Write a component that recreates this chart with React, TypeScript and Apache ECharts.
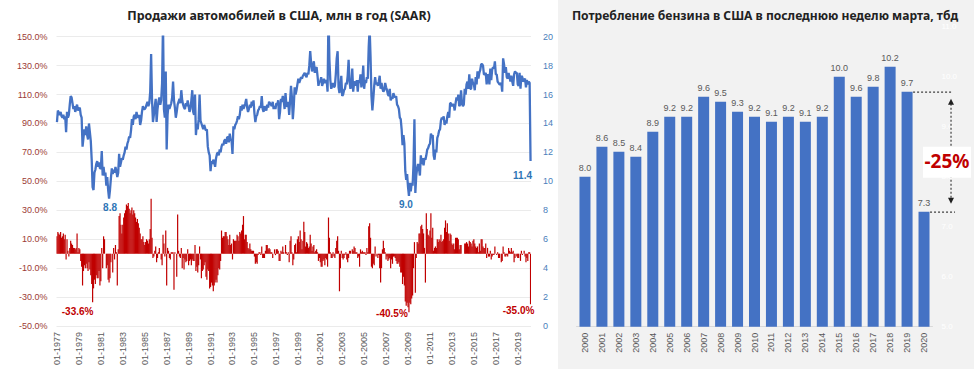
import React, { useEffect, useRef } from "react";
import * as echarts from "echarts";

// ---------- Left chart: US light vehicle sales (SAAR, mln) and YoY change ----------
const firstYear = 1977;
const lastYear = 2020;
const lastMonth = 3;
const monthLabels: string[] = [];
for (let y = firstYear; y <= lastYear; y++) {
  for (let m = 1; m <= 12; m++) {
    if (y === lastYear && m > lastMonth) break;
    monthLabels.push(`${String(m).padStart(2, "0")}-${y}`);
  }
}

// monthly SAAR, mln units (one row per year, Jan..Dec)
const carSales: number[] = [
  14.1, 14.9, 14.7, 14.6, 14.8, 14.5, 14.4, 14.6, 14.3, 14.5, 13.4, 14.8, // 1977
  14.4, 14.6, 15.3, 15.9, 15.8, 15.4, 15.0, 15.2, 14.8, 15.1, 15.3, 14.9, // 1978
  15.0, 15.1, 14.6, 14.4, 12.4, 13.0, 13.6, 13.2, 13.8, 13.2, 12.9, 14.0, // 1979
  13.4, 12.8, 11.5, 9.6, 9.4, 10.6, 10.8, 11.2, 11.4, 11.0, 11.3, 10.9, // 1980
  10.9, 12.1, 10.4, 11.0, 10.4, 10.6, 9.7, 10.3, 9.4, 8.8, 9.4, 10.2, // 1981
  10.9, 10.5, 10.8, 10.6, 11.0, 10.7, 10.3, 10.6, 11.9, 11.0, 11.3, 11.6, // 1982
  11.5, 11.8, 12.0, 12.4, 12.2, 12.6, 12.8, 13.1, 13.0, 13.5, 14.3, 13.9, // 1983
  14.5, 14.6, 14.3, 14.8, 14.5, 14.4, 14.6, 13.9, 14.2, 14.8, 15.2, 15.0, // 1984
  15.0, 15.1, 15.3, 15.5, 15.2, 15.4, 16.2, 18.8, 15.6, 14.1, 14.6, 15.2, // 1985
  15.7, 14.1, 15.0, 15.5, 15.8, 15.3, 15.6, 16.8, 21.0, 15.0, 14.4, 17.6, // 1986
  12.2, 14.6, 15.3, 15.0, 15.2, 15.4, 15.8, 16.9, 15.6, 15.1, 14.4, 14.8, // 1987
  15.3, 15.5, 15.7, 15.4, 16.3, 15.6, 15.3, 15.1, 15.0, 15.4, 15.2, 15.6, // 1988
  15.2, 14.8, 15.0, 15.6, 16.3, 14.8, 14.6, 16.0, 13.2, 14.0, 13.6, 14.3, // 1989
  16.0, 14.2, 14.0, 13.8, 13.6, 13.9, 13.7, 13.5, 13.6, 12.4, 12.0, 11.8, // 1990
  10.7, 11.4, 11.2, 11.5, 11.3, 11.0, 11.6, 11.9, 12.0, 11.8, 12.2, 12.0, // 1991
  12.4, 12.6, 12.5, 12.8, 12.9, 12.6, 13.0, 13.1, 12.7, 13.3, 12.9, 12.8, // 1992
  11.9, 13.8, 13.6, 13.9, 14.0, 14.2, 14.5, 14.3, 14.6, 15.2, 14.9, 15.3, // 1993
  15.0, 15.2, 15.4, 15.7, 15.1, 14.8, 15.0, 15.3, 15.1, 15.5, 15.2, 15.6, // 1994
  14.7, 14.1, 14.5, 14.6, 14.9, 15.0, 15.2, 15.1, 15.9, 15.0, 14.8, 15.2, // 1995
  15.0, 14.9, 15.3, 15.1, 15.5, 15.4, 15.3, 15.2, 15.5, 15.0, 15.2, 15.0, // 1996
  15.4, 15.3, 15.6, 14.3, 14.8, 15.7, 15.5, 15.9, 15.6, 15.0, 16.1, 15.2, // 1997
  15.2, 15.5, 14.6, 15.6, 16.6, 15.8, 14.3, 15.2, 16.5, 16.0, 16.3, 16.7, // 1998
  17.1, 16.8, 17.0, 17.2, 17.1, 17.3, 17.4, 17.5, 17.3, 17.2, 17.5, 17.4, // 1999
  18.0, 19.0, 18.2, 17.6, 17.9, 18.3, 17.5, 17.8, 17.9, 17.3, 16.6, 16.9, // 2000
  16.9, 17.2, 16.6, 16.8, 17.1, 16.8, 16.9, 17.0, 16.2, 21.7, 18.4, 17.0, // 2001
  16.4, 16.6, 16.8, 16.5, 16.6, 17.4, 18.5, 19.0, 16.5, 16.1, 16.6, 17.3, // 2002
  15.9, 16.0, 16.3, 16.4, 16.8, 16.7, 17.3, 18.4, 16.9, 16.4, 16.6, 17.8, // 2003
  16.2, 16.8, 16.9, 16.6, 17.0, 16.2, 17.0, 16.8, 17.4, 16.5, 16.9, 18.0, // 2004
  16.4, 17.0, 16.8, 17.2, 17.1, 19.3, 20.6, 18.6, 15.9, 14.9, 15.7, 16.6, // 2005
  17.2, 16.7, 16.8, 16.6, 16.9, 17.3, 16.4, 16.8, 16.4, 16.2, 16.3, 16.8, // 2006
  16.5, 16.3, 16.0, 15.9, 16.4, 15.6, 15.8, 15.7, 16.1, 15.9, 15.8, 15.9, // 2007
  15.3, 15.2, 15.0, 14.4, 14.3, 13.6, 12.5, 13.2, 12.6, 10.7, 10.1, 10.5, // 2008
  9.6, 9.0, 9.9, 9.3, 9.9, 9.7, 11.2, 14.3, 9.2, 10.4, 10.9, 11.2, // 2009
  10.9, 10.4, 11.8, 11.2, 11.6, 11.1, 11.6, 11.5, 11.8, 12.2, 12.3, 12.5, // 2010
  12.6, 13.3, 13.1, 13.2, 11.8, 11.5, 12.2, 12.0, 13.0, 13.2, 13.5, 13.6, // 2011
  14.2, 14.4, 14.3, 14.5, 13.9, 14.2, 14.0, 14.5, 14.8, 14.4, 15.4, 15.4, // 2012
  15.2, 15.3, 15.3, 14.9, 15.4, 15.8, 15.6, 16.0, 15.2, 15.3, 16.3, 15.4, // 2013
  15.2, 15.3, 16.4, 16.0, 16.7, 16.9, 16.4, 17.4, 16.4, 16.4, 17.1, 16.8, // 2014
  16.7, 16.3, 17.2, 16.7, 17.6, 17.1, 17.5, 17.7, 18.1, 18.1, 18.0, 17.4, // 2015
  17.4, 17.5, 16.7, 17.4, 17.3, 16.7, 17.8, 17.0, 17.7, 17.9, 17.8, 18.3, // 2016
  17.4, 17.4, 16.9, 16.8, 16.7, 16.7, 16.8, 16.2, 18.5, 18.1, 17.5, 17.9, // 2017
  17.2, 17.1, 17.5, 17.2, 16.9, 17.3, 16.9, 16.6, 17.4, 17.6, 17.5, 17.5, // 2018
  16.7, 16.6, 17.5, 16.4, 17.3, 17.2, 16.9, 17.0, 17.1, 16.5, 17.0, 16.7, // 2019
  16.9, 16.8, 11.4, // 2020
];

// year-over-year change, % (one row per year, Jan..Dec)
const carSalesYoY: number[] = [
  12, 15, 14, 13, 15, 11, 12, 14, 10, 13, -4, 10, // 1977
  2, -2, 4, 9, 7, 6, 4, 4, 3, 4, 14, 1, // 1978
  4, 3, -5, -9, -22, -12, -8, -10, -7, -10, -12, -6, // 1979
  -11, -15, -21, -33.6, -24, -18, -21, -15, -17, -17, -12, -22, // 1980
  -19, 4, -10, 12, 10, 0, -10, -8, -18, -20, -17, -6, // 1981
  0, -13, 4, -4, 6, 1, -22, 3, 26, 28, 20, 14, // 1982
  20, 25, 28, 30, 34, 33, 35, 31, 28, 30, 32, 27, // 1983
  30, 28, 25, 22, 24, 21, 18, 14, 10, 10, 12, 8, // 1984
  6, 8, 10, 9, 7, 10, 17, 38, 11, -3, -2, 2, // 1985
  5, -6, -3, 1, 4, 0, -4, -8, 13, 7, -2, 16, // 1986
  -22, 4, 2, -3, -4, 1, 1, 1, -25, 1, 0, -16, // 1987
  27, 2, -2, -3, 4, -10, -3, -11, -4, -6, -5, 3, // 1988
  -8, -5, -4, -8, -4, -5, -5, 6, -12, -9, -13, -8, // 1989
  5, -4, -17, -12, -11, -8, -6, -16, -18, -11, -12, -24, // 1990
  -23, -20, -22, -26, -22, -20, -18, -20, -15, -10, -11, -5, // 1991
  16, 11, 12, 12, 15, 15, 12, 10, 6, 13, 6, 7, // 1992
  -4, 10, 9, 9, 9, 13, 12, 9, 15, 14, 16, 20, // 1993
  26, 10, 13, 13, 8, 4, 3, 7, 3, 2, 2, 2, // 1994
  -2, -7, -6, -7, -1, 1, 1, -1, 5, -3, -3, -3, // 1995
  2, 6, 6, 3, 4, 3, 1, 1, -3, 0, 3, -1, // 1996
  3, 3, 2, -5, -5, 2, 1, 5, 1, 0, 6, 1, // 1997
  -1, 1, -6, 9, 12, 1, -8, -4, 6, 7, 1, 10, // 1998
  12, 8, 16, 10, 3, 9, 22, 15, 5, 8, 7, 4, // 1999
  5, 13, 7, 2, 5, 6, 1, 2, 3, 1, -5, -3, // 2000
  -6, -9, -9, -5, -4, -8, -3, -4, -9, 25, 11, 1, // 2001
  -3, -3, 1, -2, -3, 4, 9, 12, 2, -26, -10, 2, // 2002
  -3, -4, -3, -1, 1, -4, -6, -3, 2, 2, 0, 3, // 2003
  2, 5, 4, 1, 1, -3, -2, -9, 3, 1, 2, 1, // 2004
  1, 1, -1, 4, 1, 19, 21, 11, -9, -10, -7, -8, // 2005
  5, -2, 0, -3, -1, -10, -20, -10, 3, 9, 4, 1, // 2006
  -4, -2, -5, -4, -3, -10, -4, -7, -2, -2, -3, -5, // 2007
  -7, -7, -6, -9, -13, -13, -21, -16, -22, -33, -36, -34, // 2008
  -37, -40.5, -34, -35, -31, -29, -10, 8, -27, -3, 8, 7, // 2009
  14, 14, 19, 20, 17, 14, 4, -20, 28, 17, 13, 12, // 2010
  16, 28, 11, 18, 2, 4, 5, 4, 10, 8, 10, 9, // 2011
  13, 8, 9, 10, 18, 23, 15, 21, 14, 9, 14, 13, // 2012
  7, 6, 7, 3, 11, 11, 11, 10, 3, 6, 6, 0, // 2013
  0, 0, 7, 7, 8, 7, 5, 9, 8, 7, 5, 9, // 2014
  10, 7, 5, 4, 5, 1, 7, 2, 10, 10, 5, 4, // 2015
  4, 7, -3, 4, -2, -2, 2, -4, -2, -1, -1, 5, // 2016
  0, -1, 1, -3, -3, 0, -6, -5, 5, 1, -2, -2, // 2017
  -1, -2, 4, 2, 1, 4, 1, 2, -6, -3, 0, -2, // 2018
  -3, -3, 0, -5, 2, -1, 0, 2, -2, -6, -3, -5, // 2019
  1, 1, -35.0, // 2020
];

// ---------- Right chart: US gasoline demand, last week of March (mb/d) ----------
const gasYears = [
  "2000", "2001", "2002", "2003", "2004", "2005", "2006", "2007", "2008", "2009", "2010",
  "2011", "2012", "2013", "2014", "2015", "2016", "2017", "2018", "2019", "2020",
];
const gasValues = [
  8.0, 8.6, 8.5, 8.4, 8.9, 9.2, 9.2, 9.6, 9.5, 9.3, 9.2,
  9.1, 9.2, 9.1, 9.2, 10.0, 9.6, 9.8, 10.2, 9.7, 7.3,
];
const gasChangeLabel = "-25%";

const leftTitle = "Продажи автомобилей в США, млн в год (SAAR)";
const rightTitle = "Потребление бензина в США в последнюю неделю марта, тбд";

const FONT = "'Liberation Sans', Arial, sans-serif";
const TITLE_FONT = "'Noto Sans', 'Liberation Sans', sans-serif";

function baseGraphic(): any[] {
  return [
    {
      type: "rect",
      silent: true,
      z: -10,
      shape: { x: 558, y: 0, width: 416, height: 369 },
      style: { fill: "#f2f2f2" },
    },
    {
      type: "text",
      x: 279,
      y: 15,
      style: {
        text: leftTitle,
        textAlign: "center",
        textVerticalAlign: "middle",
        fontFamily: TITLE_FONT,
        fontSize: 12.4,
        fontWeight: "bold",
        fill: "#222222",
      },
    },
    {
      type: "text",
      x: 765,
      y: 15,
      style: {
        text: rightTitle,
        textAlign: "center",
        textVerticalAlign: "middle",
        fontFamily: TITLE_FONT,
        fontSize: 12.1,
        fontWeight: "bold",
        fill: "#222222",
      },
    },
  ];
}

function notePoint(coord: [string, number], text: string, offset: number[], color: string) {
  return {
    coord,
    symbol: "circle",
    symbolSize: 1,
    itemStyle: { color: "rgba(0,0,0,0)" },
    label: {
      show: true,
      position: "inside",
      offset,
      formatter: text,
      color,
      fontFamily: FONT,
      fontSize: 10,
      fontWeight: "bold",
    },
  };
}

function buildOption(): any {
  const iMin1981 = monthLabels.indexOf("10-1981");
  const iMin2009 = monthLabels.indexOf("02-2009");
  const iLast = monthLabels.length - 1;
  const iYoy1980 = monthLabels.indexOf("04-1980");
  const blue = "#2e75b6";
  const red = "#c00000";
  return {
    animation: false,
    backgroundColor: "#ffffff",
    textStyle: { fontFamily: FONT },
    grid: [
      { left: 56.5, right: 443, top: 36.7, bottom: 43 },
      { left: 576.5, right: 41.5, top: 26.7, bottom: 42.3 },
    ],
    xAxis: [
      {
        type: "category",
        gridIndex: 0,
        data: monthLabels,
        axisLine: { show: false },
        axisTick: { show: false },
        axisLabel: { interval: 23, rotate: 90, fontSize: 9, color: "#595959", margin: 6 },
      },
      {
        type: "category",
        gridIndex: 1,
        data: gasYears,
        axisLine: { show: true, lineStyle: { color: "#d9d9d9" } },
        axisTick: { show: false },
        axisLabel: { interval: 0, rotate: 90, fontSize: 9, color: "#595959", margin: 6 },
      },
    ],
    yAxis: [
      {
        type: "value",
        gridIndex: 0,
        min: -50,
        max: 150,
        interval: 20,
        axisLine: { show: false },
        axisTick: { show: false },
        axisLabel: {
          formatter: (v: number) => v.toFixed(1) + "%",
          fontSize: 9,
          color: "#9c3b36",
          margin: 9,
        },
        splitLine: { lineStyle: { color: "#ebebeb" } },
      },
      {
        type: "value",
        gridIndex: 0,
        position: "right",
        min: 0,
        max: 20,
        interval: 2,
        axisLine: { show: false },
        axisTick: { show: false },
        axisLabel: { fontSize: 9, color: "#4a7ebb", margin: 12 },
        splitLine: { show: false },
      },
      {
        type: "value",
        gridIndex: 1,
        position: "right",
        min: 5,
        max: 11,
        interval: 1,
        axisLine: { show: false },
        axisTick: { show: false },
        axisLabel: { formatter: (v: number) => v.toFixed(1), fontSize: 8, color: "#ffffff", margin: 9 },
        splitLine: { show: false },
      },
    ],
    series: [
      {
        type: "bar",
        xAxisIndex: 0,
        yAxisIndex: 0,
        data: carSalesYoY,
        barWidth: 1.2,
        itemStyle: { color: red },
        z: 2,
        markPoint: {
          silent: true,
          data: [
            notePoint([monthLabels[iYoy1980], carSalesYoY[iYoy1980]], carSalesYoY[iYoy1980].toFixed(1) + "%", [-15, 9], red),
            notePoint([monthLabels[iMin2009], carSalesYoY[iMin2009]], carSalesYoY[iMin2009].toFixed(1) + "%", [-17, 1], red),
            notePoint([monthLabels[iLast], carSalesYoY[iLast]], carSalesYoY[iLast].toFixed(1) + "%", [-12, 6], red),
          ],
        },
      },
      {
        type: "line",
        xAxisIndex: 0,
        yAxisIndex: 1,
        data: carSales,
        symbol: "none",
        showSymbol: false,
        lineStyle: { width: 2.3, color: "#4472c4" },
        z: 3,
        markPoint: {
          silent: true,
          data: [
            notePoint([monthLabels[iMin1981], carSales[iMin1981]], carSales[iMin1981].toFixed(1), [1, 9], blue),
            notePoint([monthLabels[iMin2009], carSales[iMin2009]], carSales[iMin2009].toFixed(1), [-3, 9], blue),
            notePoint([monthLabels[iLast], carSales[iLast]], carSales[iLast].toFixed(1), [-8, 14], blue),
          ],
        },
      },
      {
        type: "bar",
        xAxisIndex: 1,
        yAxisIndex: 2,
        data: gasValues,
        barWidth: 11,
        itemStyle: { color: "#4472c4" },
        label: {
          show: true,
          position: "top",
          distance: 4,
          formatter: (p: any) => Number(p.value).toFixed(1),
          fontSize: 9,
          color: "#595959",
        },
      },
    ],
  };
}

export default function App() {
  const ref = useRef<HTMLDivElement>(null);
  useEffect(() => {
    if (!ref.current) return;
    const chart = echarts.init(ref.current, null, { renderer: "svg" });
    chart.setOption(buildOption());

    const n = gasValues.length;
    const pPrev = chart.convertToPixel({ seriesIndex: 2 }, [gasYears[n - 2], gasValues[n - 2]]) as number[];
    const pLast = chart.convertToPixel({ seriesIndex: 2 }, [gasYears[n - 1], gasValues[n - 1]]) as number[];
    const ax = pLast[0] + 27;
    const mid = (pPrev[1] + pLast[1]) / 2;
    const dash = { stroke: "#404040", lineWidth: 1.2, lineDash: [2, 2] };
    const annot: any[] = [
      { type: "line", shape: { x1: pPrev[0] + 6, y1: pPrev[1] + 0.5, x2: ax + 2, y2: pPrev[1] + 0.5 }, style: dash, z: 20 },
      { type: "line", shape: { x1: pLast[0] + 6, y1: pLast[1] + 0.5, x2: ax + 4, y2: pLast[1] + 0.5 }, style: dash, z: 20 },
      { type: "line", shape: { x1: ax, y1: pPrev[1] + 12, x2: ax, y2: pLast[1] - 12 }, style: dash, z: 20 },
      {
        type: "polygon",
        shape: { points: [[ax, pPrev[1] + 7], [ax - 3, pPrev[1] + 13], [ax + 3, pPrev[1] + 13]] },
        style: { fill: "#202020" },
        z: 21,
      },
      {
        type: "polygon",
        shape: { points: [[ax, pLast[1] - 8], [ax - 3, pLast[1] - 14], [ax + 3, pLast[1] - 14]] },
        style: { fill: "#202020" },
        z: 21,
      },
      {
        type: "rect",
        shape: { x: ax - 28, y: mid - 5, width: 48, height: 31 },
        style: { fill: "#ffffff" },
        z: 22,
      },
      {
        type: "text",
        x: ax - 4,
        y: mid + 9,
        z: 23,
        style: {
          text: gasChangeLabel,
          textAlign: "center",
          textVerticalAlign: "middle",
          fontFamily: TITLE_FONT,
          fontSize: 19,
          fontWeight: "bold",
          fill: "#c00000",
        },
      },
    ];
    chart.setOption({ graphic: [...baseGraphic(), ...annot] });
    return () => chart.dispose();
  }, []);
  return (
    <div
      ref={ref}
      style={{ position: "fixed", left: 0, top: 0, width: 974, height: 369 }}
    />
  );
}
